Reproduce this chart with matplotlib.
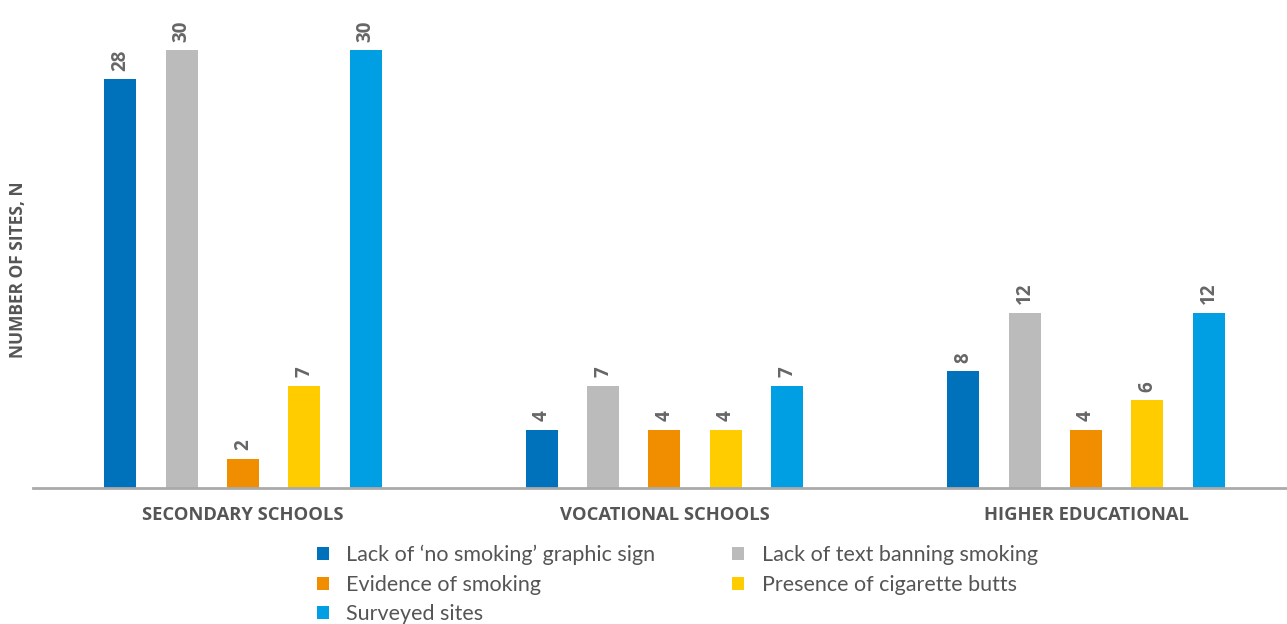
import numpy as np
import matplotlib
matplotlib.use("Agg")
import matplotlib.pyplot as plt

plt.rcParams.update({"font.family": ["Lato", "DejaVu Sans"]})

groups = ["SECONDARY SCHOOLS", "VOCATIONAL SCHOOLS", "HIGHER EDUCATIONAL"]
series = ["Lack of \u2018no smoking\u2019 graphic sign", "Lack of text banning smoking",
          "Evidence of smoking", "Presence of cigarette butts", "Surveyed sites"]
no_graphic = [28, 4, 8]
no_text = [30, 7, 12]
evidence = [2, 4, 4]
butts = [7, 4, 6]
surveyed = [30, 7, 12]
colors = ["#0072BC", "#BBBBBB", "#F18E00", "#FFCC00", "#009FE3"]

vals = [no_graphic, no_text, evidence, butts, surveyed]
TXT = "#555555"
BOLD = ["Open Sans", "DejaVu Sans"]

fig = plt.figure(figsize=(12.87, 6.24), dpi=100)
ax = fig.add_axes([33/1287, 136/624, 1 - 33/1287, 438/624])
x = np.arange(len(groups))
step, w = 0.1455, 0.076
handles = []
for j, (v, c, lab) in enumerate(zip(vals, colors, series)):
    bars = ax.bar(x + (j - 2)*step, v, w, color=c, label=lab)
    handles.append(bars)
    for b, val in zip(bars, v):
        ax.annotate(f"{val}", (b.get_x() + b.get_width()/2, val), xytext=(0, 6),
                    textcoords="offset points", ha="center", va="bottom", rotation=90,
                    fontsize=13.5, fontweight="bold", family=BOLD, color="#666666",
                    annotation_clip=False)

ax.set_xlim(-0.498, 2.477); ax.set_ylim(0, 30)
for s in ["top", "right", "left"]:
    ax.spines[s].set_visible(False)
ax.spines["bottom"].set_color("#AAAAAA"); ax.spines["bottom"].set_linewidth(2)
ax.set_yticks([])
ax.set_xticks(x)
ax.set_xticklabels(groups, fontsize=13.2, fontweight="bold", family=BOLD, color=TXT)
ax.tick_params(axis="x", length=0, pad=13)
fig.text(18/1287, 1 - 270/624, "NUMBER OF SITES, N", rotation=90, ha="center", va="center",
         fontsize=12.5, fontweight="bold", family=BOLD, color=TXT)

# legend fills column-wise; reorder so rows read left-to-right
order = [0, 2, 4, 1, 3]
leg = fig.legend([handles[i] for i in order], [series[i] for i in order], ncol=2,
                 loc="upper left", bbox_to_anchor=(306/1287, 1 - 534/624), frameon=False,
                 fontsize=15.5, handlelength=0.55, handleheight=0.55, handletextpad=0.8,
                 columnspacing=3.6, labelspacing=0.45, borderpad=0)
for t in leg.get_texts():
    t.set_color(TXT)

fig.savefig("out.png", dpi=100)
